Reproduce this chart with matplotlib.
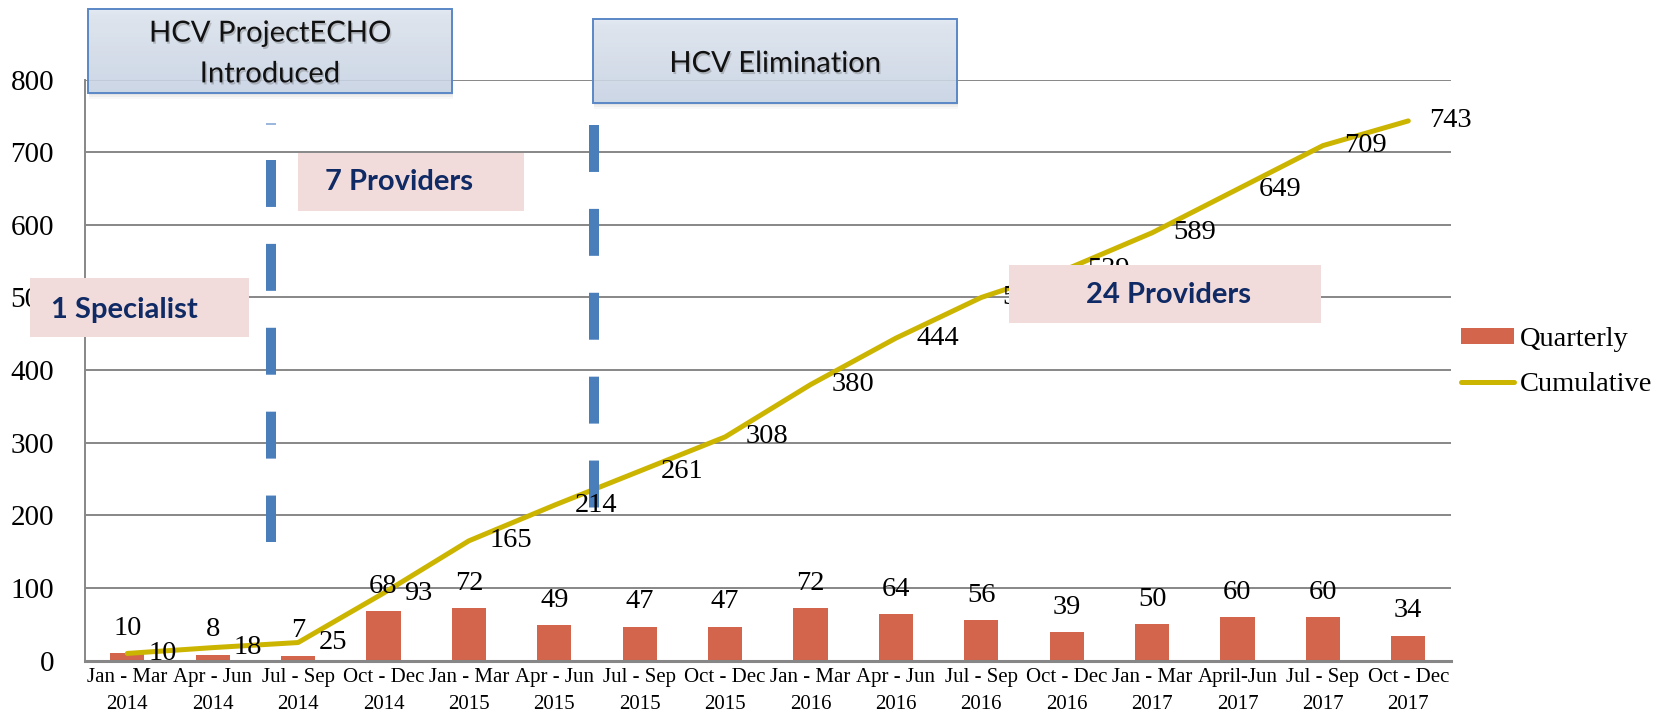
import matplotlib
matplotlib.use('Agg')
import matplotlib.pyplot as plt
import matplotlib.patheffects as pe
from matplotlib.patches import Rectangle, Patch
from matplotlib.lines import Line2D
from matplotlib.colors import to_rgb
import numpy as np

plt.rcParams['lines.scale_dashes'] = False

# ---------------- data ----------------
categories = ["Jan - Mar\n2014", "Apr - Jun\n2014", "Jul - Sep\n2014", "Oct - Dec\n2014",
              "Jan - Mar\n2015", "Apr - Jun\n2015", "Jul - Sep\n2015", "Oct - Dec\n2015",
              "Jan - Mar\n2016", "Apr - Jun\n2016", "Jul - Sep\n2016", "Oct - Dec\n2016",
              "Jan - Mar\n2017", "April-Jun\n2017", "Jul - Sep\n2017", "Oct - Dec\n2017"]
quarterly = [10, 8, 7, 68, 72, 49, 47, 47, 72, 64, 56, 39, 50, 60, 60, 34]
cumulative = [10, 18, 25, 93, 165, 214, 261, 308, 380, 444, 500, 539, 589, 649, 709, 743]
y_ticks = [0, 100, 200, 300, 400, 500, 600, 700, 800]
series_names = ["Quarterly", "Cumulative"]

BAR = '#D2654B'
LINE = '#CCB500'
DASH = '#4A7EBB'
SERIF = 'Liberation Serif'
SANS = 'Lato'

W, H = 1672, 716
fig = plt.figure(figsize=(W / 100, H / 100), dpi=100)
ax = fig.add_axes([84.6 / W, 1 - 660.7 / H, (1451 - 84.6) / W, (660.7 - 79.5) / H])

x = np.arange(len(categories))
ax.bar(x, quarterly, width=0.4, color=BAR, zorder=2)
ax.plot(x, cumulative, color=LINE, lw=3.6, zorder=3, solid_capstyle='round', solid_joinstyle='round')

for xi, q in zip(x, quarterly):
    ax.annotate(str(q), (xi, q), xytext=(0, 18), textcoords='offset points',
                ha='center', va='center', fontsize=20.5, family=SERIF, zorder=5)
for xi, c in zip(x, cumulative):
    ax.annotate(str(c), (xi, c), xytext=(15, 0), textcoords='offset points',
                ha='left', va='center', fontsize=20.5, family=SERIF, zorder=5)

# vertical dashed marker lines
ax.plot([1.68, 1.68], [689, 163], color=DASH, lw=7.2, dashes=(33.8, 26.6), zorder=4, solid_capstyle='butt')
ax.plot([1.68, 1.68], [740.5, 737.5], color='#9DB8DD', lw=7.2, zorder=4, solid_capstyle='butt')
ax.plot([5.46, 5.46], [737, 210], color=DASH, lw=7.2, dashes=(33.8, 26.6), zorder=4, solid_capstyle='butt')

ax.set_xlim(-0.5, len(categories) - 0.5)
ax.set_ylim(0, 800)
ax.set_yticks(y_ticks)
ax.set_xticks(x)
ax.set_xticklabels(categories, family=SERIF, fontsize=15, linespacing=1.58)
ax.set_yticklabels([str(t) for t in y_ticks], family=SERIF, fontsize=21)
ax.tick_params(axis='both', length=0)
ax.tick_params(axis='y', pad=22)
ax.tick_params(axis='x', pad=5)
ax.grid(axis='y', color='#878787', lw=1.4, zorder=0)
ax.set_axisbelow(True)
for s in ['top', 'right']:
    ax.spines[s].set_visible(False)
ax.spines['left'].set_color('#878787')
ax.spines['left'].set_linewidth(1.4)
ax.spines['bottom'].set_color('#878787')
ax.spines['bottom'].set_linewidth(2.2)

handles = [Patch(facecolor=BAR, edgecolor='none'), Line2D([0], [0], color=LINE, lw=3.6, solid_capstyle='round')]
fig.legend(handles, series_names, loc='center left', bbox_to_anchor=(1461 / W, 1 - 362 / H),
           bbox_transform=fig.transFigure, frameon=False, borderpad=0, borderaxespad=0,
           handlelength=1.85, handleheight=0.5, handletextpad=0.22, labelspacing=0.72,
           prop={'family': SERIF, 'size': 20.5})

# ---------------- overlay annotations (pixel coords) ----------------
ov = fig.add_axes([0, 0, 1, 1], zorder=10)
ov.set_xlim(0, W)
ov.set_ylim(H, 0)
ov.axis('off')
ov.patch.set_alpha(0)

top_c = np.array(to_rgb('#E0E7F1'))
bot_c = np.array(to_rgb('#C9D5E7'))
grad = np.linspace(0, 1, 64)[:, None, None] * (bot_c - top_c) + top_c
grad = np.repeat(grad, 2, axis=1)

blue_boxes = [((88, 9, 452, 93), "HCV ProjectECHO\nIntroduced", 54),
              ((593, 19, 957, 103), "HCV Elimination", 64)]
for (x0, y0, x1, y1), txt, ty in blue_boxes:
    for k, a in enumerate([0.10, 0.08, 0.05]):
        d = 2 + 2 * k
        ov.add_patch(Rectangle((x0 + 1, y0 + d), x1 - x0, y1 - y0, facecolor='#7F7F7F', alpha=a, lw=0))
    ov.imshow(grad, extent=(x0, x1, y1, y0), aspect='auto', alpha=0.85, zorder=2, interpolation='bilinear')
    ov.add_patch(Rectangle((x0, y0), x1 - x0, y1 - y0, facecolor='none',
                           edgecolor='#5A87C6', lw=1.4, zorder=3))
    ov.text((x0 + x1) / 2, ty, txt, ha='center', va='center', family=SANS,
            fontsize=21, color='#111111', linespacing=1.7, zorder=4,
            path_effects=[pe.withSimplePatchShadow(offset=(1, -1.5), shadow_rgbFace='#555555', alpha=0.3)])
ov.set_xlim(0, W)
ov.set_ylim(H, 0)

pink_boxes = [((298, 153, 524, 211), "7 Providers", 325, 182),
              ((30, 278, 249, 337), "1 Specialist", 51, 310),
              ((1009, 265, 1321, 323), "24 Providers", 1086, 295)]
for (x0, y0, x1, y1), txt, tx, ty in pink_boxes:
    ov.add_patch(Rectangle((x0, y0), x1 - x0, y1 - y0, facecolor='#F2DCDB', lw=0, zorder=5))
    ov.text(tx, ty, txt, ha='left', va='center', family=SANS, fontweight='bold',
            fontsize=21, color='#0F2A64', zorder=6)

fig.savefig('out.png', dpi=100)
